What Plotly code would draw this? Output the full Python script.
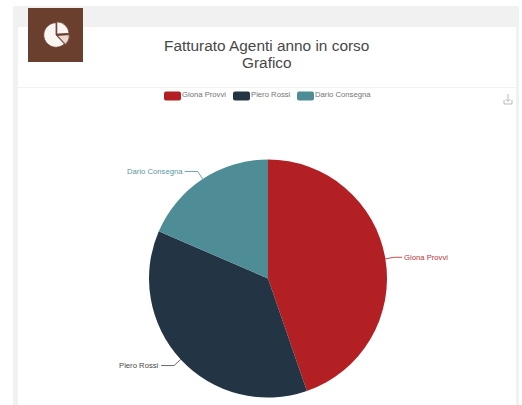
import math
import plotly.graph_objects as go

agents = ["Giona Provvi", "Piero Rossi", "Dario Consegna"]
revenue = [44.7, 36.8, 18.5]
colors = ["#b32024", "#233444", "#4f8d96"]
title_lines = ["Fatturato Agenti anno in corso", "Grafico"]
icon_values = [24, 14, 62]

W, H = 522, 405
CX, CY, R = 268, 278.5, 119


def px(x):
    return x / W


def py(y):
    return 1 - y / H


def rect(x0, y0, x1, y1, fill, line=None):
    return dict(type="rect", xref="paper", yref="paper", x0=px(x0), x1=px(x1),
                y0=py(y1), y1=py(y0), fillcolor=fill, line=dict(width=0), layer="below")


def path(points, color, width=0.8):
    d = "M" + " L".join(f"{px(x):.5f},{py(y):.5f}" for x, y in points)
    return dict(type="path", xref="paper", yref="paper", path=d,
                line=dict(color=color, width=width), layer="above")


def label(x, y, text, color, anchor="center", size=7.7):
    return dict(xref="paper", yref="paper", x=px(x), y=py(y), text=text, showarrow=False,
                xanchor=anchor, yanchor="middle", font=dict(size=size, color=color),
                opacity=0.9, xshift=0, borderpad=0, borderwidth=0)


shapes = [
    rect(13, 6, 519, 405, "#f1f1f1"),
    rect(18, 27, 516, 405, "#ffffff"),
    rect(18, 87, 516, 87.8, "#eeeeee"),
    rect(28, 8, 83, 62, "#6a3f2e"),
    # download icon
    path([(508, 94), (508, 101)], "#a8a8a8"),
    path([(505.5, 99), (508, 101.5), (510.5, 99)], "#a8a8a8"),
    path([(504, 100), (504, 104), (512, 104), (512, 100)], "#a8a8a8"),
]
annotations = [
    label(266, 45, title_lines[0], "#333333", size=15.4),
    label(267, 62, title_lines[1], "#333333", size=15.4),
]

# Legend
legend_swatches = [164, 233, 297]
for name, color, sx in zip(agents, colors, legend_swatches):
    shapes.append(dict(type="path", xref="paper", yref="paper", layer="above",
                       fillcolor=color, line=dict(width=0),
                       path=f"M{px(sx+2)},{py(91.5)} L{px(sx+15)},{py(91.5)} "
                            f"Q{px(sx+17)},{py(91.5)} {px(sx+17)},{py(93.5)} "
                            f"L{px(sx+17)},{py(98.5)} Q{px(sx+17)},{py(100.5)} {px(sx+15)},{py(100.5)} "
                            f"L{px(sx+2)},{py(100.5)} Q{px(sx)},{py(100.5)} {px(sx)},{py(98.5)} "
                            f"L{px(sx)},{py(93.5)} Q{px(sx)},{py(91.5)} {px(sx+2)},{py(91.5)} Z"))
    annotations.append(label(sx + 18, 95, name, "#666666", "left"))

# Leader lines and outside labels, placed from the slice mid-angles
total = sum(revenue)
start = 0.0
for name, value, color in zip(agents, revenue, colors):
    mid = math.radians(start + value / total * 180)
    start += value / total * 360
    sx, sy = math.sin(mid), -math.cos(mid)
    x0, y0 = CX + R * sx, CY + R * sy
    x1, y1 = CX + (R + 9) * sx, CY + (R + 9) * sy
    sign = 1 if sx > 0 else -1
    x2 = x1 + (8 if sign > 0 else -13)
    line_color = color if name != agents[1] else "#444444"
    shapes.append(path([(x0, y0), (x1, y1), (x2, y1)], line_color))
    annotations.append(label(x2 + sign * 2, y1, name, color if name != agents[1] else "#333333",
                             "left" if sign > 0 else "right"))

main_pie = go.Pie(
    labels=agents, values=revenue, sort=False, direction="clockwise", rotation=0,
    marker=dict(colors=colors, line=dict(width=0)), textinfo="none", hoverinfo="label+percent",
    showlegend=False,
    domain=dict(x=[px(CX - R), px(CX + R)], y=[py(CY + R), py(CY - R)]),
)
icon_pie = go.Pie(
    values=icon_values, sort=False, direction="clockwise", rotation=0,
    marker=dict(colors=["#faf6f3", "#e8d9d2", "#faf6f3"], line=dict(width=0.8, color="#6a3f2e")),
    pull=[0.1, 0.1, 0], textinfo="none", hoverinfo="skip", showlegend=False,
    domain=dict(x=[px(42.5), px(69.5)], y=[py(48.5), py(21.5)]),
)

fig = go.Figure([main_pie, icon_pie])
fig.update_layout(
    width=W, height=H, margin=dict(l=0, r=0, t=0, b=0), paper_bgcolor="#ffffff",
    font=dict(family="Liberation Sans, Arial, sans-serif"),
    shapes=shapes, annotations=annotations,
)
fig.write_html("out.html", config=dict(displayModeBar=False),
               post_script="document.body.style.margin='0';document.body.style.overflow='hidden';")
